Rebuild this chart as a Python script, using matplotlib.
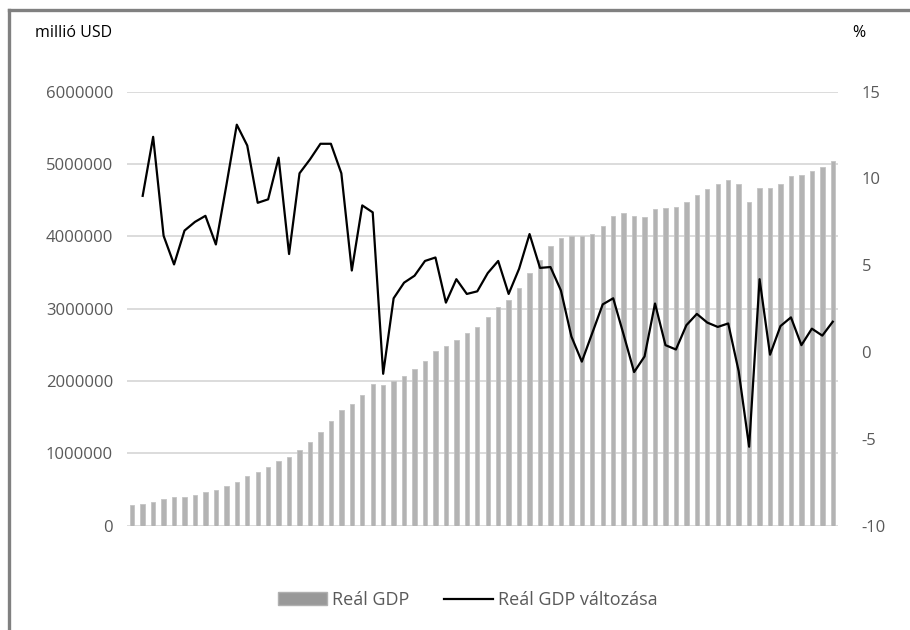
import matplotlib
matplotlib.use("Agg")
import matplotlib.pyplot as plt
from matplotlib.lines import Line2D
from matplotlib.patches import Patch
from matplotlib.ticker import FuncFormatter, MultipleLocator
import numpy as np

plt.rcParams['font.family'] = ['Open Sans', 'DejaVu Sans']
plt.rcParams['axes.unicode_minus'] = False

years = list(range(1950, 2018))

# real GDP, million USD
gdp = [286000, 300000, 330000, 370000, 390000, 400000, 430000, 470000, 500000, 545000,
       610000, 690000, 740000, 810000, 900000, 950000, 1050000, 1160000, 1290000, 1450000,
       1600000, 1680000, 1810000, 1960000, 1940000, 2000000, 2075000, 2170000, 2280000, 2410000,
       2480000, 2570000, 2670000, 2750000, 2880000, 3030000, 3120000, 3290000, 3500000, 3670000,
       3860000, 3980000, 4010000, 4000000, 4030000, 4150000, 4280000, 4320000, 4280000, 4270000,
       4380000, 4390000, 4410000, 4470000, 4570000, 4650000, 4720000, 4780000, 4730000, 4470000,
       4670000, 4670000, 4730000, 4830000, 4850000, 4910000, 4960000, 5040000]

# yearly change, %
change = [np.nan, 9.0, 12.4, 6.7, 5.05, 7.0, 7.5, 7.85, 6.2, 9.6,
          13.1, 11.9, 8.6, 8.8, 11.2, 5.65, 10.3, 11.1, 12.0, 12.0,
          10.3, 4.7, 8.45, 8.05, -1.25, 3.1, 4.0, 4.4, 5.25, 5.45,
          2.85, 4.2, 3.35, 3.5, 4.55, 5.25, 3.35, 4.8, 6.8, 4.85,
          4.9, 3.55, 0.9, -0.55, 1.1, 2.75, 3.1, 1.0, -1.15, -0.25,
          2.8, 0.4, 0.15, 1.55, 2.2, 1.7, 1.45, 1.65, -1.1, -5.45,
          4.2, -0.15, 1.5, 2.0, 0.4, 1.35, 0.95, 1.75]

x = np.arange(len(years))

fig = plt.figure(figsize=(9.1, 6.3), dpi=100)
ax = fig.add_axes([127/910, 1 - 525.7/630, 711/910, 434/630])
ax2 = ax.twinx()

ax.bar(x, gdp, width=0.42, color='#b3b3b3', edgecolor='#c4c4c4', linewidth=0.6, zorder=2)
ax2.plot(x, change, color='black', linewidth=1.6, zorder=3)

ax.set_xlim(-0.5, len(years) - 0.5)
ax.set_ylim(0, 6000000)
ax.yaxis.set_major_locator(MultipleLocator(1000000))
ax.yaxis.set_major_formatter(FuncFormatter(lambda v, p: '%d' % v))
ax2.set_ylim(-10, 15)
ax2.yaxis.set_major_locator(MultipleLocator(5))

ax.grid(axis='y', color='#d9d9d9', linewidth=1.3, zorder=0)
ax.set_axisbelow(True)
ax.set_xticks([])
for a in (ax, ax2):
    for s in a.spines.values():
        s.set_visible(False)
ax.tick_params(axis='y', length=0, pad=10, labelsize=12, labelcolor='#595959')
ax2.tick_params(axis='y', length=0, pad=17, labelsize=12, labelcolor='#595959')

fig.text(35/910, 1 - 33/630, 'millió USD', fontsize=11.5, va='center', ha='left')
fig.text(852/910, 1 - 33/630, '%', fontsize=11.5, va='center', ha='left')

handles = [Patch(facecolor='#999999', edgecolor='#b0b0b0'),
           Line2D([0], [0], color='black', linewidth=1.6)]
fig.legend(handles, ['Reál GDP', 'Reál GDP változása'], loc='center',
           bbox_to_anchor=(468/910, 1 - 600/630), ncol=2, frameon=False,
           fontsize=13, labelcolor='#595959', handlelength=2.7, handleheight=0.7,
           handletextpad=0.3, columnspacing=1.9)

# outer frame (top and left edge)
fig.add_artist(Line2D([9/910, 9/910], [0, 1 - 10/630], color='#808080', linewidth=2.4))
fig.add_artist(Line2D([9/910, 1], [1 - 10/630, 1 - 10/630], color='#808080', linewidth=2.4))

fig.savefig('out.png', dpi=100)
plt.close()
